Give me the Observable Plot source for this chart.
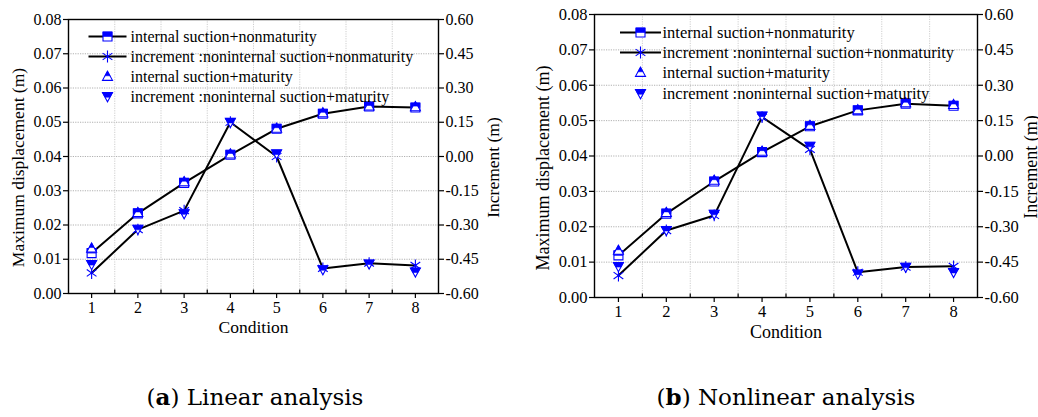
<!DOCTYPE html>
<html><head><meta charset="utf-8">
<script src="https://cdn.jsdelivr.net/npm/d3@7"></script>
<script src="https://cdn.jsdelivr.net/npm/@observablehq/plot@0.6"></script>
<style>
body{margin:0;background:#fff;width:1038px;height:417px;position:relative;overflow:hidden}
.panel{position:absolute;top:0}
.panel svg, .panel svg text{font-family:"Liberation Serif",serif !important}
.cap{position:absolute;font-family:"DejaVu Serif",serif;font-size:23px;line-height:23px;color:#000;white-space:nowrap;transform:translateX(-50%)}
.cap b{font-weight:bold}
</style></head><body>
<div id="a" class="panel" style="left:0"></div>
<div id="b" class="panel" style="left:518px"></div>
<div class="cap" style="left:255px;top:385px">(<b>a</b>) Linear analysis</div>
<div class="cap" style="left:786px;top:385px">(<b>b</b>) Nonlinear analysis</div>
<script>
// ---------- data ----------
const conditions = [1, 2, 3, 4, 5, 6, 7, 8];
const legendLabels = [
  "internal suction+nonmaturity",
  "increment :noninternal suction+nonmaturity",
  "internal suction+maturity",
  "increment :noninternal suction+maturity"
];
const leftTicks = [0, 0.01, 0.02, 0.03, 0.04, 0.05, 0.06, 0.07, 0.08];
const rightTicks = [-0.6, -0.45, -0.3, -0.15, 0, 0.15, 0.3, 0.45, 0.6];
const minorX = [1.5, 2.5, 3.5, 4.5, 5.5, 6.5, 7.5];

// (a) Linear analysis
const linNonmat    = [0.0118, 0.0234, 0.0323, 0.0405, 0.0481, 0.0525, 0.0546, 0.0543];
const linIncNonmat = [-0.51, -0.32, -0.237, 0.15, 0.0, -0.49, -0.467, -0.477];
const linMat       = [0.0132, 0.0236, 0.0326, 0.0407, 0.0482, 0.0527, 0.0547, 0.0545];
const linIncMat    = [-0.4725, -0.318, -0.25, 0.15, 0.012, -0.495, -0.47, -0.505];

// (b) Nonlinear analysis
const nlNonmat    = [0.0119, 0.0237, 0.0328, 0.0411, 0.0484, 0.0529, 0.0548, 0.0542];
const nlIncNonmat = [-0.507, -0.316, -0.252, 0.165, 0.028, -0.493, -0.471, -0.468];
const nlMat       = [0.0133, 0.0240, 0.0331, 0.0413, 0.0486, 0.0530, 0.0550, 0.0545];
const nlIncMat    = [-0.468, -0.315, -0.246, 0.17, 0.042, -0.50, -0.471, -0.493];

// ---------- symbols ----------
const BLUE = "#0000ff";
const k = size => Math.sqrt(size / Math.PI) / 5;
const sqFull = {draw(c, size){const s=5*k(size); c.moveTo(-s,-s); c.lineTo(s,-s); c.lineTo(s,s); c.lineTo(-s,s); c.closePath();}};
const sqTop  = {draw(c, size){const s=5*k(size); c.moveTo(-s,-s); c.lineTo(s,-s); c.lineTo(s,0); c.lineTo(-s,0); c.closePath();}};
const triUpFull = {draw(c, size){const f=k(size); c.moveTo(0,-5.5*f); c.lineTo(5.2*f,4*f); c.lineTo(-5.2*f,4*f); c.closePath();}};
const triUpTop  = {draw(c, size){const f=k(size); const m=-0.75*f; c.moveTo(0,-5.5*f); c.lineTo(2.6*f,m); c.lineTo(-2.6*f,m); c.closePath();}};
const triDnFull = {draw(c, size){const f=k(size); c.moveTo(-5.2*f,-4*f); c.lineTo(5.2*f,-4*f); c.lineTo(0,5.5*f); c.closePath();}};
const triDnTop  = {draw(c, size){const f=k(size); const m=0.75*f; c.moveTo(-5.2*f,-4*f); c.lineTo(5.2*f,-4*f); c.lineTo(2.6*f,m); c.lineTo(-2.6*f,m); c.closePath();}};
const star = {draw(c, size){const s=5.5*k(size);
  for (const a of [90, 35, 145]) { const r=a*Math.PI/180; const dx=s*Math.cos(r), dy=s*Math.sin(r); c.moveTo(-dx,-dy); c.lineTo(dx,dy);} }};
const legendLine = w => ({draw(c){c.moveTo(-w,0); c.lineTo(w,0);}});

const fmt2 = v => (Math.abs(v) < 1e-9 ? 0 : v).toFixed(2);
const FONT = "Liberation Serif";

function chart(cfg, nonmat, incNonmat, mat, incMat) {
  const toLeft = d3.scaleLinear().domain([-0.6, 0.6]).range([0, 0.08]);
  const rows = arr => conditions.map((c, i) => ({c, v: arr[i]}));
  const rowsR = arr => conditions.map((c, i) => ({c, v: toLeft(arr[i])}));
  const s1 = rows(nonmat), s2 = rowsR(incNonmat), s3 = rows(mat), s4 = rowsR(incMat);
  const fs = cfg.fs, ft = cfg.ft;
  const half = (data, full, top, r) => [
    Plot.dot(data, {x: "c", y: "v", symbol: full, r, fill: "#fff", stroke: BLUE, strokeWidth: 1.1}),
    Plot.dot(data, {x: "c", y: "v", symbol: top, r, fill: BLUE, stroke: BLUE, strokeWidth: 0.6})
  ];
  const lg = cfg.lg;
  const one = [0];
  const legendMarks = [];
  const symSets = [
    [sqFull, sqTop, 4.5], null, [triUpFull, triUpTop, 4.8], [triDnFull, triDnTop, 4.8]
  ];
  legendLabels.forEach((lab, i) => {
    const dy = lg.dy[i];
    if (i < 2) legendMarks.push(Plot.dot(one, {frameAnchor: "top-left", dx: lg.mx, dy, symbol: legendLine(lg.half), r: 5, stroke: "#000", strokeWidth: 2, fill: "none"}));
    if (i === 1) {
      legendMarks.push(Plot.dot(one, {frameAnchor: "top-left", dx: lg.mx, dy, symbol: star, r: 5.4, stroke: BLUE, strokeWidth: 1.1, fill: "none"}));
    } else {
      const [f, t, r] = symSets[i];
      legendMarks.push(Plot.dot(one, {frameAnchor: "top-left", dx: lg.mx, dy, symbol: f, r, fill: "#fff", stroke: BLUE, strokeWidth: 1.1}));
      legendMarks.push(Plot.dot(one, {frameAnchor: "top-left", dx: lg.mx, dy, symbol: t, r, fill: BLUE, stroke: BLUE, strokeWidth: 0.6}));
    }
    legendMarks.push(Plot.text([lab], {frameAnchor: "top-left", dx: lg.tx, dy, textAnchor: "start", lineAnchor: "middle", fontSize: fs, fontFamily: FONT, fill: "#000"}));
  });

  return Plot.plot({
    width: cfg.width, height: cfg.height,
    marginLeft: cfg.ml, marginRight: cfg.mr, marginTop: cfg.mt, marginBottom: cfg.mb,
    style: {fontFamily: FONT, fontSize: fs + "px", color: "#000", background: "transparent", overflow: "visible"},
    x: {domain: [0.5, 8.5]},
    y: {domain: [0, 0.08]},
    marks: [
      Plot.gridY(leftTicks.slice(1, -1), {stroke: "#a8a8a8", strokeOpacity: 1, strokeDasharray: "1.2,1.2", strokeWidth: 0.9}),
      Plot.gridX(minorX, {stroke: "#c8c8c8", strokeOpacity: 1, strokeDasharray: "1.2,1.2", strokeWidth: 0.9}),
      Plot.axisY(leftTicks, {anchor: "left", tickSize: 5, tickPadding: 2, tickFormat: fmt2, label: null, fontSize: fs, fontFamily: FONT, strokeWidth: 1.2}),
      Plot.axisY(rightTicks.map(toLeft), {anchor: "right", tickSize: 5, tickPadding: 2, tickFormat: d => fmt2(toLeft.invert(d)), label: null, fontSize: fs, fontFamily: FONT, strokeWidth: 1.2}),
      Plot.axisX(conditions, {anchor: "bottom", tickSize: 5, tickPadding: 3, tickFormat: d => String(d), label: null, fontSize: fs, fontFamily: FONT, strokeWidth: 1.2}),
      Plot.axisX(minorX, {anchor: "bottom", tickSize: -3.5, tickFormat: () => "", label: null, strokeWidth: 1.2}),
      Plot.frame({stroke: "#000", strokeWidth: 1.4}),
      Plot.text(["Maximum displacement (m)"], {frameAnchor: "left", textAnchor: "middle", lineAnchor: "middle", rotate: -90, dx: cfg.ly.dx, dy: cfg.ly.dy, fontSize: ft, fontFamily: FONT, fill: "#000"}),
      Plot.text(["Increment (m)"], {frameAnchor: "right", textAnchor: "middle", lineAnchor: "middle", rotate: -90, dx: cfg.ry.dx, dy: cfg.ry.dy, fontSize: ft, fontFamily: FONT, fill: "#000"}),
      Plot.text(["Condition"], {frameAnchor: "bottom", textAnchor: "middle", lineAnchor: "middle", dy: cfg.xl, fontSize: ft, fontFamily: FONT, fill: "#000"}),
      Plot.line(s1, {x: "c", y: "v", stroke: "#000", strokeWidth: 2}),
      ...half(s1, sqFull, sqTop, 4.5),
      Plot.line(s2, {x: "c", y: "v", stroke: "#000", strokeWidth: 2}),
      Plot.dot(s2, {x: "c", y: "v", symbol: star, r: 5.4, stroke: BLUE, strokeWidth: 1.1, fill: "none"}),
      ...half(s3, triUpFull, triUpTop, 4.8),
      ...half(s4, triDnFull, triDnTop, 4.8),
      ...legendMarks
    ]
  });
}

document.getElementById("a").append(chart({
  width: 520, height: 340, ml: 68, mr: 82, mt: 19, mb: 47, fs: 16, ft: 17.5,
  ly: {dx: -50, dy: 11}, ry: {dx: 55, dy: 11}, xl: 34,
  lg: {mx: 39, half: 19, tx: 62, dy: [17, 37, 57, 77]}
}, linNonmat, linIncNonmat, linMat, linIncMat));

document.getElementById("b").append(chart({
  width: 520, height: 340, ml: 76, mr: 61, mt: 14, mb: 43, fs: 16.5, ft: 18,
  ly: {dx: -51, dy: 12}, ry: {dx: 54, dy: 11}, xl: 35,
  lg: {mx: 46, half: 20.5, tx: 68, dy: [18, 38, 58, 79]}
}, nlNonmat, nlIncNonmat, nlMat, nlIncMat));
</script>
</body></html>
